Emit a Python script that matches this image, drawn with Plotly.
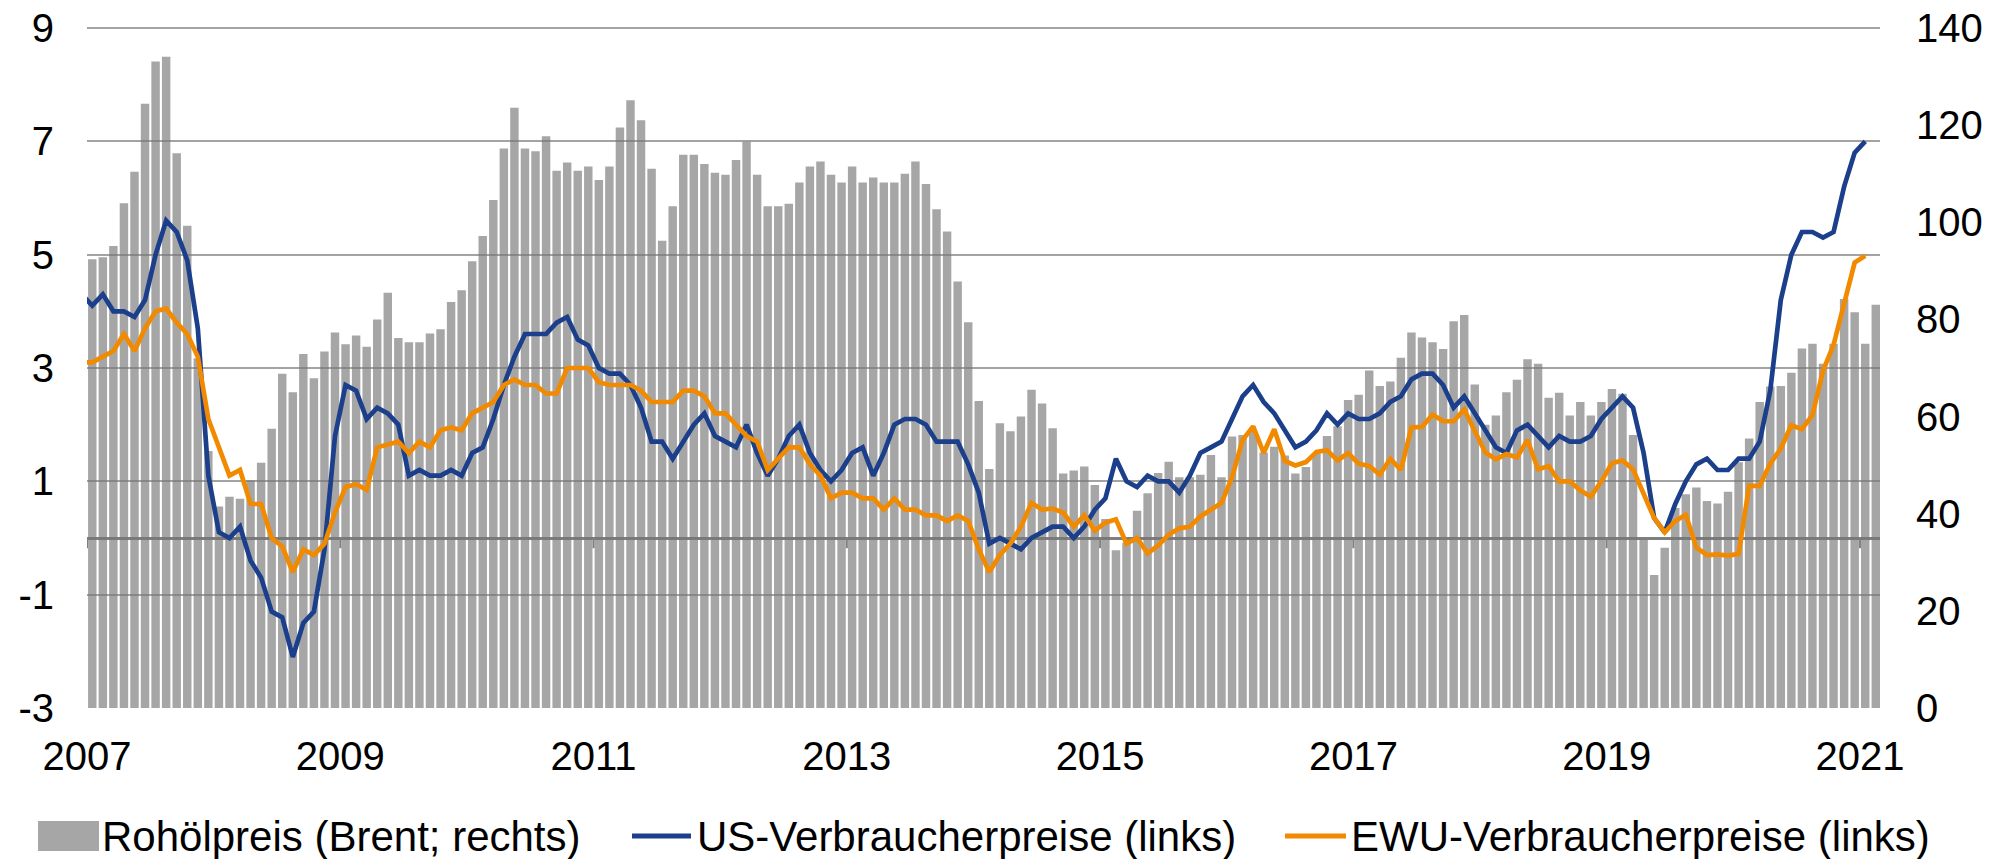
import plotly.graph_objects as go

# ---------------- data (monthly, Dec of first year onward) ----------------
YEAR_LABELS = ["2007", "2009", "2011", "2013", "2015", "2017", "2019", "2021"]
LEFT_TICKS = [-3, -1, 1, 3, 5, 7, 9]
LEFT_LABELS = ["-3", "-1", "1", "3", "5", "7", "9"]
RIGHT_TICKS = [0, 20, 40, 60, 80, 100, 120, 140]

# Brent oil price (USD/bbl), right axis, 170 months
oil = [92.4, 92.8, 95.1, 103.9, 110.4, 124.4, 133.1, 134.1, 114.2, 99.3, 72.0, 52.9, 41.5,
       43.5, 43.1, 46.9, 50.5, 57.5, 68.8, 65.0, 72.9, 67.9, 73.4, 77.3, 74.9,
       76.7, 74.4, 80.0, 85.5, 76.2, 75.3, 75.3, 77.1, 78.0, 83.6, 86.0, 92.0,
       97.2, 104.6, 115.2, 123.6, 115.2, 114.6, 117.7, 110.6, 112.3, 110.6, 111.5, 108.7,
       111.5, 119.5, 125.1, 121.0, 111.0, 96.2, 103.3, 113.9, 113.9, 112.0, 110.2, 109.8,
       112.8, 116.6, 109.8, 103.3, 103.3, 103.8, 108.2, 111.5, 112.5, 109.8, 108.2, 111.5,
       108.2, 109.2, 108.2, 108.2, 110.0, 112.5, 107.9, 102.7, 98.1, 87.8, 79.4, 63.2,
       49.2, 58.6, 57.0, 60.0, 65.5, 62.7, 57.6, 48.3, 48.9, 49.7, 45.9, 38.9,
       32.5, 34.0, 40.6, 44.2, 48.4, 50.7, 47.5, 47.5, 48.0, 52.1, 47.5, 55.9,
       56.2, 56.9, 52.6, 53.8, 52.0, 48.3, 49.6, 52.4, 56.0, 58.0, 63.4, 64.5,
       69.5, 66.3, 67.2, 72.1, 77.3, 76.3, 75.3, 73.9, 79.6, 80.9, 66.6, 58.3,
       60.2, 65.0, 67.6, 71.8, 70.9, 63.9, 64.9, 60.2, 63.0, 60.2, 63.0, 65.7,
       64.7, 56.2, 34.7, 27.4, 33.0, 41.2, 44.0, 45.4, 42.6, 42.1, 44.5, 50.6,
       55.5, 63.0, 66.2, 66.3, 69.0, 74.0, 75.0, 70.9, 75.0, 84.2, 81.5, 75.0,
       83.0]

# US consumer prices (% yoy), left axis, starts one month before the bars
us_cpi = [4.3, 4.1, 4.3, 4.0, 4.0, 3.9, 4.2, 5.0, 5.6, 5.4, 4.9, 3.7, 1.1, 0.1,
          0.0, 0.2, -0.4, -0.7, -1.3, -1.4, -2.1, -1.5, -1.3, -0.2, 1.8, 2.7,
          2.6, 2.1, 2.3, 2.2, 2.0, 1.1, 1.2, 1.1, 1.1, 1.2, 1.1, 1.5,
          1.6, 2.1, 2.7, 3.2, 3.6, 3.6, 3.6, 3.8, 3.9, 3.5, 3.4, 3.0,
          2.9, 2.9, 2.7, 2.3, 1.7, 1.7, 1.4, 1.7, 2.0, 2.2, 1.8, 1.7,
          1.6, 2.0, 1.5, 1.1, 1.4, 1.8, 2.0, 1.5, 1.2, 1.0, 1.2, 1.5,
          1.6, 1.1, 1.5, 2.0, 2.1, 2.1, 2.0, 1.7, 1.7, 1.7, 1.3, 0.8,
          -0.1, 0.0, -0.1, -0.2, 0.0, 0.1, 0.2, 0.2, 0.0, 0.2, 0.5, 0.7,
          1.4, 1.0, 0.9, 1.1, 1.0, 1.0, 0.8, 1.1, 1.5, 1.6, 1.7, 2.1,
          2.5, 2.7, 2.4, 2.2, 1.9, 1.6, 1.7, 1.9, 2.2, 2.0, 2.2, 2.1,
          2.1, 2.2, 2.4, 2.5, 2.8, 2.9, 2.9, 2.7, 2.3, 2.5, 2.2, 1.9,
          1.6, 1.5, 1.9, 2.0, 1.8, 1.6, 1.8, 1.7, 1.7, 1.8, 2.1, 2.3,
          2.5, 2.3, 1.5, 0.35, 0.1, 0.6, 1.0, 1.3, 1.4, 1.2, 1.2, 1.4,
          1.4, 1.7, 2.6, 4.2, 5.0, 5.4, 5.4, 5.3, 5.4, 6.2, 6.8, 7.0]

# Euro area consumer prices (% yoy), left axis
ewu_cpi = [3.1, 3.1, 3.2, 3.3, 3.6, 3.3, 3.7, 4.0, 4.05, 3.8, 3.6, 3.2, 2.1, 1.6,
           1.1, 1.2, 0.6, 0.6, 0.0, -0.15, -0.6, -0.2, -0.3, -0.1, 0.45, 0.9,
           0.95, 0.85, 1.6, 1.65, 1.7, 1.5, 1.7, 1.6, 1.9, 1.95, 1.9, 2.2,
           2.3, 2.4, 2.7, 2.8, 2.7, 2.7, 2.55, 2.55, 3.0, 3.0, 3.0, 2.75,
           2.7, 2.7, 2.7, 2.6, 2.4, 2.4, 2.4, 2.6, 2.6, 2.5, 2.2, 2.2,
           2.0, 1.8, 1.7, 1.2, 1.4, 1.6, 1.6, 1.3, 1.1, 0.7, 0.8, 0.8,
           0.7, 0.7, 0.5, 0.7, 0.5, 0.5, 0.4, 0.4, 0.3, 0.4, 0.3, -0.2,
           -0.6, -0.3, -0.1, 0.2, 0.62, 0.5, 0.52, 0.45, 0.2, 0.4, 0.13, 0.27,
           0.33, -0.1, 0.0, -0.27, -0.13, 0.06, 0.17, 0.2, 0.38, 0.5, 0.62, 1.07,
           1.73, 1.97, 1.5, 1.92, 1.36, 1.28, 1.34, 1.52, 1.55, 1.37, 1.5, 1.31,
           1.27, 1.12, 1.4, 1.2, 1.95, 1.96, 2.18, 2.06, 2.06, 2.27, 1.88, 1.51,
           1.39, 1.48, 1.42, 1.73, 1.21, 1.27, 1.0, 1.0, 0.84, 0.73, 1.0, 1.32,
           1.37, 1.21, 0.78, 0.35, 0.1, 0.3, 0.41, -0.17, -0.3, -0.29, -0.31, -0.28,
           0.92, 0.92, 1.31, 1.58, 1.99, 1.92, 2.17, 2.95, 3.41, 4.1, 4.86, 4.98]

LEGEND_NAMES = ["Rohölpreis (Brent; rechts)", "US-Verbraucherpreise (links)",
                "EWU-Verbraucherpreise (links)"]

# ---------------- styling ----------------
FONT = "Liberation Sans, Arial, sans-serif"
BAR_COLOR = "rgba(118,118,118,0.65)"
BLUE = "#1B3F8B"
ORANGE = "#F28A00"
GRID = "#A3A3A3"
ZERO = "#7F7F7F"
LINE_W = 4.7

W, H = 1995, 859
L, R, T, B = 87, 115, 28, 151
PW, PH = W - L - R, H - T - B

x_bars = list(range(len(oil)))
x_lines = list(range(-1, len(us_cpi) - 1))
tick_pos = [i * 24 - 0.5 for i in range(len(YEAR_LABELS))]

fig = go.Figure()
fig.add_trace(go.Bar(x=x_bars, y=oil, marker=dict(color=BAR_COLOR, line=dict(width=0)),
                     name=LEGEND_NAMES[0], yaxis="y", showlegend=False))
fig.add_trace(go.Scatter(x=x_lines, y=us_cpi, mode="lines", name=LEGEND_NAMES[1],
                         line=dict(color=BLUE, width=LINE_W), yaxis="y2", showlegend=False))
fig.add_trace(go.Scatter(x=x_lines, y=ewu_cpi, mode="lines", name=LEGEND_NAMES[2],
                         line=dict(color=ORANGE, width=LINE_W), yaxis="y2", showlegend=False))


def px_x(p):
    return (p - L) / PW


def px_y(p):
    return (H - B - p) / PH


shapes = []
# top gridline (at the range edge)
shapes.append(dict(type="line", xref="paper", yref="paper", x0=0, x1=1, y0=1, y1=1,
                   line=dict(color=GRID, width=2), layer="below"))
# small tick marks on the zero line
for tp in tick_pos:
    shapes.append(dict(type="line", xref="x", yref="y2", x0=tp, x1=tp, y0=0, y1=-0.18,
                       line=dict(color=ZERO, width=2)))

# custom legend
leg_y = 836
shapes.append(dict(type="rect", xref="paper", yref="paper",
                   x0=px_x(38), x1=px_x(99), y0=px_y(851), y1=px_y(821),
                   fillcolor="#A6A6A6", line=dict(width=0)))
shapes.append(dict(type="line", xref="paper", yref="paper",
                   x0=px_x(632), x1=px_x(691), y0=px_y(leg_y), y1=px_y(leg_y),
                   line=dict(color=BLUE, width=5)))
shapes.append(dict(type="line", xref="paper", yref="paper",
                   x0=px_x(1285), x1=px_x(1346), y0=px_y(leg_y), y1=px_y(leg_y),
                   line=dict(color=ORANGE, width=5)))

annotations = []
for name, xp in zip(LEGEND_NAMES, [100, 695, 1349]):
    annotations.append(dict(text=name, xref="paper", yref="paper", x=px_x(xp), y=px_y(leg_y),
                            xanchor="left", yanchor="middle", showarrow=False,
                            font=dict(family=FONT, size=42, color="black")))

fig.update_layout(
    width=W, height=H, autosize=False,
    margin=dict(l=L, r=R, t=T, b=B, pad=0, autoexpand=False),
    paper_bgcolor="white", plot_bgcolor="white",
    font=dict(family=FONT, size=40, color="black"),
    bargap=0.2,
    showlegend=False,
    xaxis=dict(range=[-0.5, 169.4], tickmode="array", tickvals=tick_pos, ticktext=YEAR_LABELS,
               showgrid=False, zeroline=False, showline=False, ticks="", automargin=False,
               tickfont=dict(size=40), ticklabelstandoff=21),
    yaxis=dict(range=[0, 140], tickmode="array", tickvals=RIGHT_TICKS,
               side="right", showgrid=False, zeroline=False, showline=False, ticks="",
               automargin=False, tickfont=dict(size=40), ticklabelstandoff=35),
    yaxis2=dict(range=[-3, 9], tickmode="array", tickvals=LEFT_TICKS, ticktext=LEFT_LABELS,
                overlaying="y", side="left", showgrid=True, gridcolor=GRID, gridwidth=2,
                zeroline=True, zerolinecolor=ZERO, zerolinewidth=2.5, automargin=False,
                showline=False, ticks="", tickfont=dict(size=40), ticklabelstandoff=32),
    shapes=shapes,
    annotations=annotations,
)

fig.write_html("out.html", config={"displayModeBar": False},
               post_script="document.body.style.margin='0';document.body.style.overflow='hidden';")
